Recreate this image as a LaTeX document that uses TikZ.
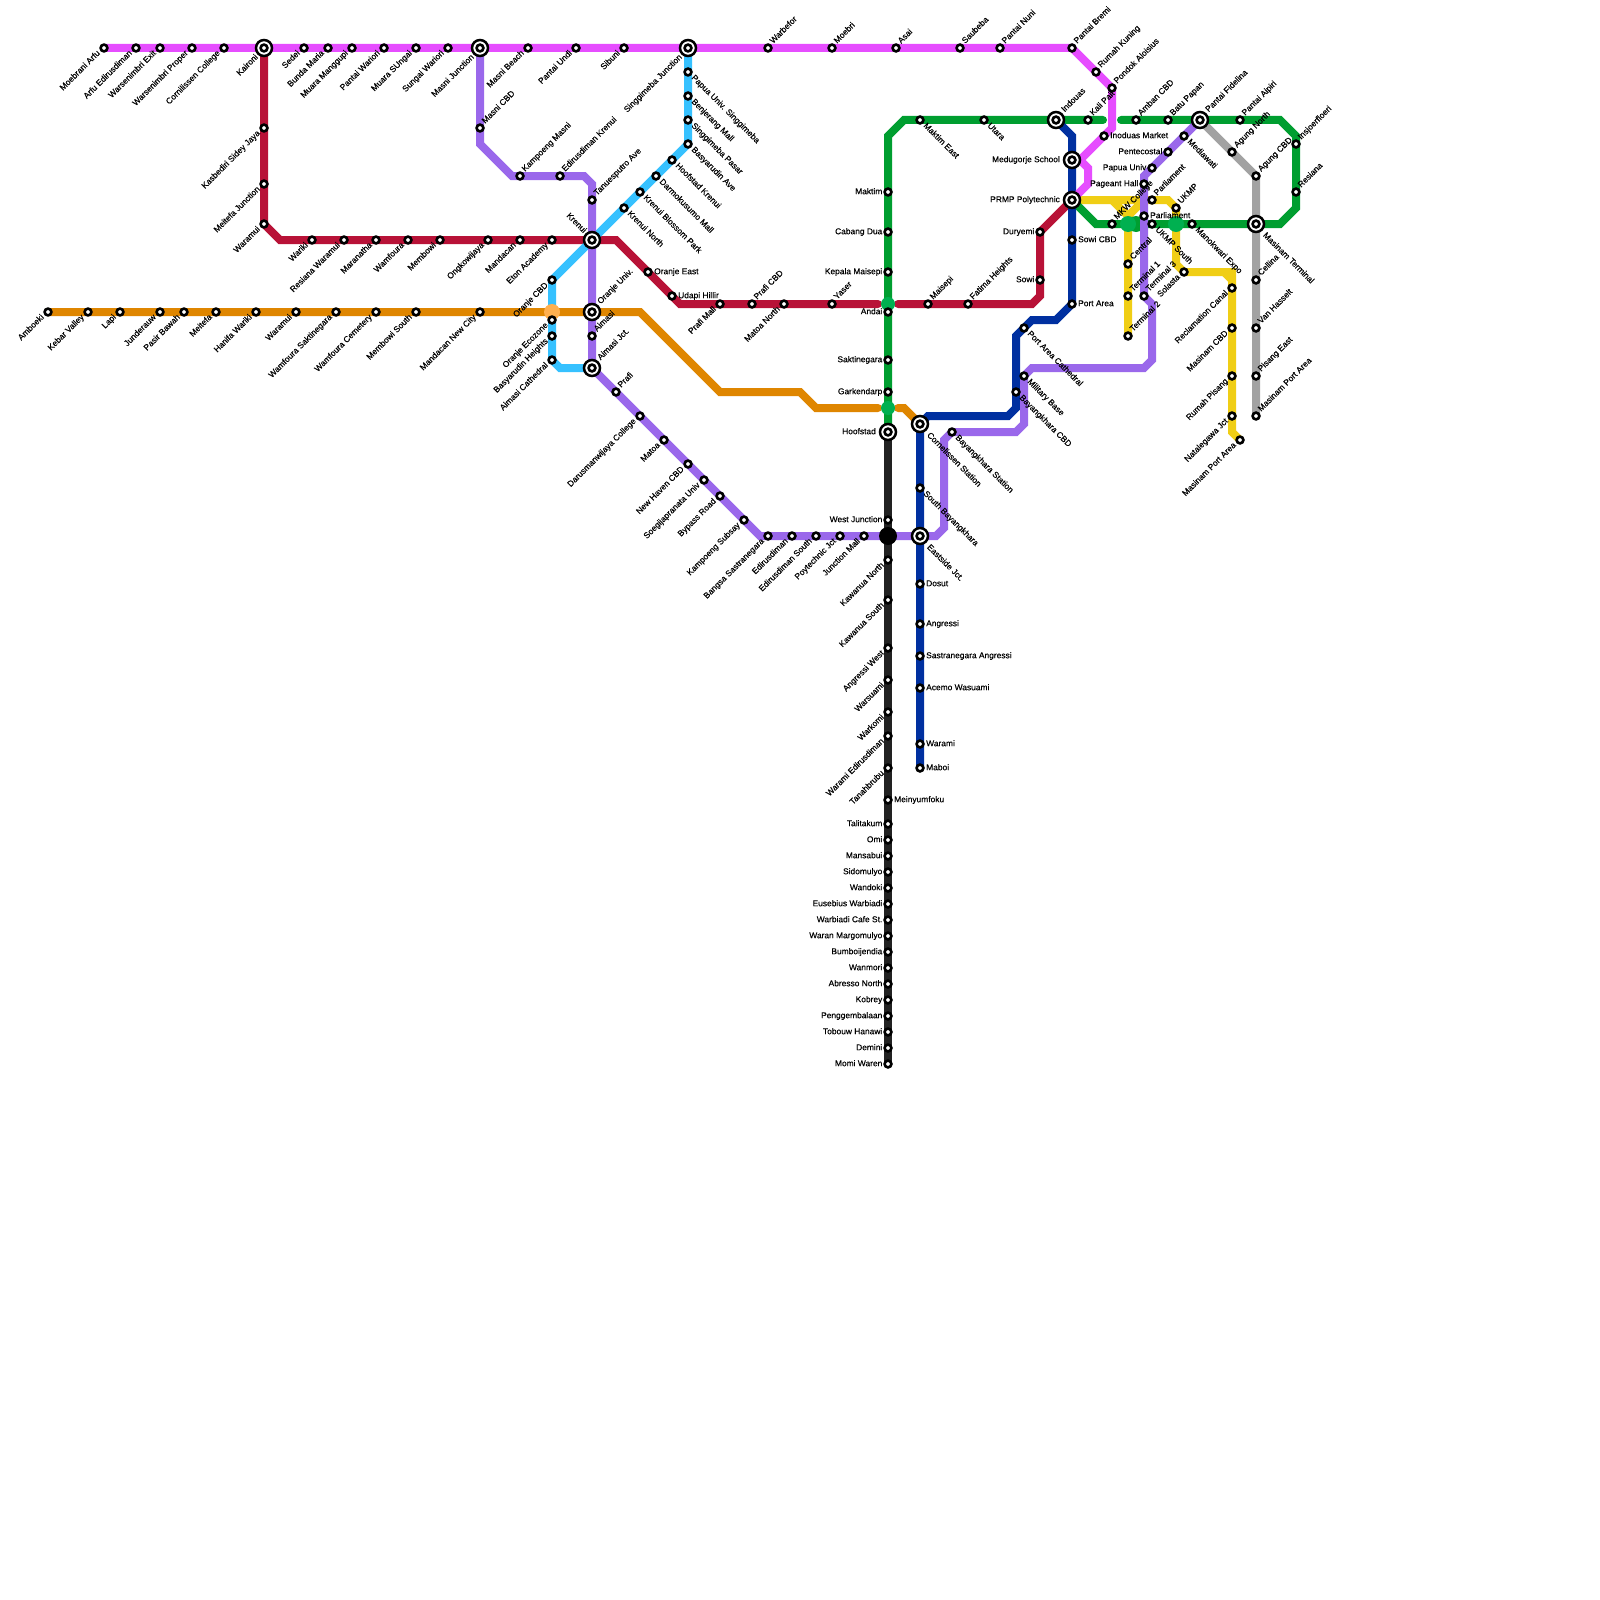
\documentclass[tikz,border=0pt]{standalone}
\usepackage{fontspec}
\setmainfont[FakeBold=0.25]{Liberation Sans}
\definecolor{cMag}{HTML}{E64DFF}
\definecolor{cRed}{HTML}{B81237}
\definecolor{cOra}{HTML}{DF8600}
\definecolor{cPur}{HTML}{9A68EB}
\definecolor{cSky}{HTML}{36C1FF}
\definecolor{cGrn}{HTML}{009E30}
\definecolor{cLgn}{HTML}{00B050}
\definecolor{cBlu}{HTML}{0030A0}
\definecolor{cYel}{HTML}{F0CE15}
\definecolor{cGry}{HTML}{A2A2A2}
\definecolor{cBlk}{HTML}{222222}
\definecolor{cLor}{HTML}{FFB050}
\pgfdeclarelayer{bg}
\pgfsetlayers{bg,main}
\tikzset{
  metro/.style={line width=8pt,line join=miter},
  stn/.style={circle,draw=black,fill=white,line width=2.6pt,minimum size=6.8pt,inner sep=0pt},
  hubo/.style={circle,draw=black,fill=white,line width=2.5pt,minimum size=16pt,inner sep=0pt},
  blob/.style={circle,draw=none,minimum size=#1,inner sep=0pt},
  lab/.style={inner sep=0pt,text height=6pt,text depth=1.6pt,font=\fontsize{8.4}{10}\selectfont,text=black},
  labSW/.style={lab,xshift=-5pt,yshift=-4pt,rotate=45,anchor=east},
  labNE/.style={lab,xshift=3.5pt,yshift=5.5pt,rotate=45,anchor=west},
  labSE/.style={lab,xshift=4.5pt,yshift=-4.5pt,rotate=-45,anchor=west},
  labNW/.style={lab,xshift=-5pt,yshift=5pt,rotate=-45,anchor=east},
  labW/.style={lab,xshift=-5.5pt,anchor=east},
  labE/.style={lab,xshift=6pt,anchor=west},
  hubSW/.style={lab,xshift=-7pt,yshift=-8pt,rotate=45,anchor=east},
  hubNE/.style={lab,xshift=7pt,yshift=9pt,rotate=45,anchor=west},
  hubSE/.style={lab,xshift=8pt,yshift=-10pt,rotate=-45,anchor=west},
  hubNW/.style={lab,xshift=-7pt,yshift=8pt,rotate=-45,anchor=east},
  hubW/.style={lab,xshift=-12pt,anchor=east},
}
\newcommand\stn[5]{\node[stn] (#1) at (#2,#3) {}; \node[lab#4] (#1-t) at (#2,#3) {#5};}
\newcommand\hub[5]{\node[hubo] (#1-o) at (#2,#3) {}; \node[stn] (#1) at (#2,#3) {}; \node[hub#4] (#1-t) at (#2,#3) {#5};}
\begin{document}
\begin{tikzpicture}[x=1pt,y=-1pt]
\useasboundingbox (0,0) rectangle (1600,1600);
\begin{pgfonlayer}{bg}
\fill[white] (0,0) rectangle (1600,1600);
\end{pgfonlayer}
% transfer blobs
\node[blob=16pt,fill=cLor] (xOra) at (552,312) {};
\node[blob=14pt,fill=cLgn] (xRed) at (888,304) {};
\node[blob=14pt,fill=cLgn] (xOrb) at (888,408) {};
\node[blob=16pt,fill=cLgn] (xYel) at (1128,224) {};
\node[blob=16pt,fill=cLgn] (xYeb) at (1176,224) {};
\node[blob=18pt,fill=black] (xBlk) at (888,536) {};
% hubs
\hub{kai}{264}{48}{SW}{Kaironi}
\hub{mju}{480}{48}{SW}{Masni Junction}
\hub{sju}{688}{48}{SW}{Singgimeba Junction}
\hub{kre}{592}{240}{NW}{Krenui}
\hub{oun}{592}{312}{NE}{Oranje Univ.}
\hub{ajc}{592}{368}{NE}{Aimasi Jct.}
\hub{hoo}{888}{432}{W}{Hoofstad}
\hub{cor}{920}{424}{SE}{Cornelissen Station}
\hub{eas}{920}{536}{SE}{Eastside Jct.}
\hub{ind}{1056}{120}{NE}{Indouas}
\hub{med}{1072}{160}{W}{Medugorje School}
\hub{prm}{1072}{200}{W}{PRMP Polytechnic}
\hub{fid}{1200}{120}{NE}{Pantai Fidelina}
\hub{mte}{1256}{224}{SE}{Masinam Terminal}
% magenta
\stn{mg1}{104}{48}{SW}{Moebrani Arfu}
\stn{mg2}{136}{48}{SW}{Arfu Edirusdiman}
\stn{mg3}{160}{48}{SW}{Warsenimbri Exit}
\stn{mg4}{192}{48}{SW}{Warsenimbri Proper}
\stn{mg5}{224}{48}{SW}{Cornilissen College}
\stn{mg6}{304}{48}{SW}{Sedei}
\stn{mg7}{328}{48}{SW}{Bunda Maria}
\stn{mg8}{352}{48}{SW}{Muara Manggupi}
\stn{mg9}{384}{48}{SW}{Pantai Wariori}
\stn{mg10}{416}{48}{SW}{Muara SUngai}
\stn{mg11}{448}{48}{SW}{Sungai Wariori}
\stn{mg12}{528}{48}{SW}{Masni Beach}
\stn{mg13}{576}{48}{SW}{Pantai Undi}
\stn{mg14}{624}{48}{SW}{Sibuni}
\stn{mg15}{768}{48}{NE}{Warbefor}
\stn{mg16}{832}{48}{NE}{Moebri}
\stn{mg17}{896}{48}{NE}{Asai}
\stn{mg18}{960}{48}{NE}{Saubeba}
\stn{mg19}{1000}{48}{NE}{Pantai Nuni}
\stn{mg20}{1072}{48}{NE}{Pantai Bremi}
\stn{mg21}{1096}{72}{NE}{Rumah Kuning}
\stn{mg22}{1112}{88}{NE}{Pondok Aloisius}
\stn{mg23}{1104}{136}{E}{Inoduas Market}
% red
\stn{rd1}{264}{128}{SW}{Kasbediri Sidey Jaya}
\stn{rd2}{264}{184}{SW}{Meitefa Junction}
\stn{rd3}{264}{224}{SW}{Waramui}
\stn{rd4}{312}{240}{SW}{Wariki}
\stn{rd5}{344}{240}{SW}{Resiana Waramui}
\stn{rd6}{376}{240}{SW}{Maranatha}
\stn{rd7}{408}{240}{SW}{Wamfoura}
\stn{rd8}{440}{240}{SW}{Membowi}
\stn{rd9}{488}{240}{SW}{Ongkowijaya}
\stn{rd10}{520}{240}{SW}{Mandacan}
\stn{rd11}{552}{240}{SW}{Eton Academy}
\stn{rd12}{648}{272}{E}{Oranje East}
\stn{rd13}{672}{296}{E}{Udapi Hillir}
\stn{rd14}{720}{304}{SW}{Prafi Mall}
\stn{rd15}{752}{304}{NE}{Prafi CBD}
\stn{rd16}{784}{304}{SW}{Matoa North}
\stn{rd17}{832}{304}{NE}{Yaser}
\stn{rd18}{928}{304}{NE}{Maisepi}
\stn{rd19}{968}{304}{NE}{Fatima Heights}
\stn{rd20}{1040}{232}{W}{Duryemi}
\stn{rd21}{1040}{280}{W}{Sowi}
% orange
\stn{or1}{48}{312}{SW}{Amboeki}
\stn{or2}{88}{312}{SW}{Kebar Valley}
\stn{or3}{120}{312}{SW}{Lapi}
\stn{or4}{160}{312}{SW}{Junderauw}
\stn{or5}{184}{312}{SW}{Pasir Bawah}
\stn{or6}{216}{312}{SW}{Meitefa}
\stn{or7}{256}{312}{SW}{Hanifa Wariki}
\stn{or8}{296}{312}{SW}{Waramui}
\stn{or9}{336}{312}{SW}{Wamfoura Saktinegara}
\stn{or10}{376}{312}{SW}{Wamfoura Cemetery}
\stn{or11}{416}{312}{SW}{Membowi South}
\stn{or12}{480}{312}{SW}{Mandacan New City}
% purple
\stn{pu1}{480}{128}{NE}{Masni CBD}
\stn{pu2}{520}{176}{NE}{Kampoeng Masni}
\stn{pu3}{560}{176}{NE}{Edirusdiman Krenui}
\stn{pu4}{592}{200}{NE}{Tanuesputro Ave}
\stn{pu5}{592}{336}{NE}{Aimasi}
\stn{pu6}{616}{392}{NE}{Prafi}
\stn{pu7}{640}{416}{SW}{Darusmanwijaya College}
\stn{pu8}{664}{440}{SW}{Matoa}
\stn{pu9}{688}{464}{SW}{New Haven CBD}
\stn{pu10}{704}{480}{SW}{Soegijapranata Univ}
\stn{pu11}{720}{496}{SW}{Bypass Road}
\stn{pu12}{744}{520}{SW}{Kampoeng Subsay}
\stn{pu13}{768}{536}{SW}{Bangsa Sastranegara}
\stn{pu14}{792}{536}{SW}{Edirusdiman}
\stn{pu15}{816}{536}{SW}{Edirusdiman South}
\stn{pu16}{840}{536}{SW}{Poytechnic Jct}
\stn{pu17}{864}{536}{SW}{Junction Mall}
\stn{pu18}{952}{432}{SE}{Bayangkhara Station}
\stn{pu19}{1024}{376}{SE}{Military Base}
\stn{pu20}{1144}{296}{NE}{Terminal 3}
\stn{pu21}{1144}{216}{E}{Parliament}
\stn{pu22}{1144}{184}{W}{Pageant Hall}
\stn{pu23}{1152}{168}{W}{Papua Univ}
\stn{pu24}{1168}{152}{W}{Pentecostal}
\stn{pu25}{1184}{136}{SE}{Mediawati}
% sky
\stn{sk1}{688}{72}{SE}{Papua Univ. Singgimeba}
\stn{sk2}{688}{96}{SE}{Benjerang Mall}
\stn{sk3}{688}{120}{SE}{Singgimeba Pasar}
\stn{sk4}{688}{144}{SE}{Basyarudin Ave}
\stn{sk5}{672}{160}{SE}{Hoofstad Krenui}
\stn{sk6}{656}{176}{SE}{Darmokusumo Mall}
\stn{sk7}{640}{192}{SE}{Krenui Blossom Park}
\stn{sk8}{624}{208}{SE}{Krenui North}
\stn{sk9}{552}{280}{SW}{Oranje CBD}
\stn{sk10}{552}{320}{SW}{Oranje Ecozone}
\stn{sk11}{552}{336}{SW}{Basyarudin Heights}
\stn{sk12}{552}{360}{SW}{Aimasi Cathedral}
% green
\stn{gr1}{888}{192}{W}{Maktim}
\stn{gr2}{888}{232}{W}{Cabang Dua}
\stn{gr3}{888}{272}{W}{Kepala Maisepi}
\stn{gr4}{888}{312}{W}{Andai}
\stn{gr5}{888}{360}{W}{Saktinegara}
\stn{gr6}{888}{392}{W}{Garkendarp}
\stn{gr7}{920}{120}{SE}{Maktim East}
\stn{gr8}{984}{120}{SE}{Utara}
\stn{gr9}{1088}{120}{NE}{Kali Pait}
\stn{gr10}{1136}{120}{NE}{Amban CBD}
\stn{gr11}{1168}{120}{NE}{Batu Papan}
\stn{gr12}{1240}{120}{NE}{Pantai Aipiri}
\stn{gr13}{1296}{144}{NE}{Insjoerfloeri}
\stn{gr14}{1296}{192}{NE}{Resiana}
\stn{gr15}{1192}{224}{SE}{Manokwari Expo}
\stn{gr16}{1152}{224}{SE}{UKMP South}
\stn{gr17}{1112}{224}{NE}{MKW College}
% blue
\stn{bl1}{1072}{240}{E}{Sowi CBD}
\stn{bl2}{1072}{304}{E}{Port Area}
\stn{bl3}{1024}{328}{SE}{Port Area Cathedral}
\stn{bl4}{1016}{392}{SE}{Bayangkhara CBD}
\stn{bl5}{920}{488}{SE}{South Bayangkhara}
\stn{bl6}{920}{584}{E}{Dosut}
\stn{bl7}{920}{624}{E}{Angressi}
\stn{bl8}{920}{656}{E}{Sastranegara Angressi}
\stn{bl9}{920}{688}{E}{Acemo Wasuami}
\stn{bl10}{920}{744}{E}{Warami}
\stn{bl11}{920}{768}{E}{Maboi}
% yellow
\stn{ye1}{1152}{200}{NE}{Parliament}
\stn{ye2}{1176}{208}{NE}{UKMP}
\stn{ye3}{1184}{272}{SW}{Solasta}
\stn{ye4}{1232}{288}{SW}{Reclamation Canal}
\stn{ye5}{1232}{328}{SW}{Masinam CBD}
\stn{ye6}{1232}{376}{SW}{Rumah Pisang}
\stn{ye7}{1232}{416}{SW}{Natalegawa Jct}
\stn{ye8}{1240}{440}{SW}{Masinam Port Area}
\stn{ye9}{1128}{264}{NE}{Central}
\stn{ye10}{1128}{296}{NE}{Terminal 1}
\stn{ye11}{1128}{336}{NE}{Terminal 2}
% gray
\stn{gy1}{1232}{152}{NE}{Agung North}
\stn{gy2}{1256}{176}{NE}{Agung CBD}
\stn{gy3}{1256}{280}{NE}{Cellina}
\stn{gy4}{1256}{328}{NE}{Van Hasselt}
\stn{gy5}{1256}{376}{NE}{Pisang East}
\stn{gy6}{1256}{416}{NE}{Masinam Port Area}
% black
\stn{bk1}{888}{520}{W}{West Junction}
\stn{bk2}{888}{560}{SW}{Kawanua North}
\stn{bk3}{888}{600}{SW}{Kawanua South}
\stn{bk4}{888}{648}{SW}{Angressi West}
\stn{bk5}{888}{680}{SW}{Warsuami}
\stn{bk6}{888}{712}{SW}{Warkomi}
\stn{bk7}{888}{736}{SW}{Warami Edirusdiman}
\stn{bk8}{888}{768}{SW}{Tanahbrubu}
\stn{bk9}{888}{800}{E}{Meinyumfoku}
\stn{bk10}{888}{824}{W}{Talitakum}
\stn{bk11}{888}{840}{W}{Omi}
\stn{bk12}{888}{856}{W}{Mansabui}
\stn{bk13}{888}{872}{W}{Sidomulyo}
\stn{bk14}{888}{888}{W}{Wandoki}
\stn{bk15}{888}{904}{W}{Eusebius Warbiadi}
\stn{bk16}{888}{920}{W}{Warbiadi Cafe St.}
\stn{bk17}{888}{936}{W}{Waran Margomulyo}
\stn{bk18}{888}{952}{W}{Bumboijendia}
\stn{bk19}{888}{968}{W}{Wanmori}
\stn{bk20}{888}{984}{W}{Abresso North}
\stn{bk21}{888}{1000}{W}{Kobrey}
\stn{bk22}{888}{1016}{W}{Penggembalaan}
\stn{bk23}{888}{1032}{W}{Tobouw Hanawi}
\stn{bk24}{888}{1048}{W}{Demini}
\stn{bk25}{888}{1064}{W}{Momi Waren}
% bends
\coordinate (mb1) at (1112,128); \coordinate (mb2) at (1080,160); \coordinate (mb3) at (1088,168); \coordinate (mb4) at (1088,184);
\coordinate (rb1) at (280,240); \coordinate (rb2) at (616,240); \coordinate (rb3) at (680,304); \coordinate (rb4) at (878,304); \coordinate (rb5) at (898,304); \coordinate (rb6) at (1032,304); \coordinate (rb7) at (1040,296);
\coordinate (ob1) at (640,312); \coordinate (ob2) at (720,392); \coordinate (ob3) at (800,392); \coordinate (ob4) at (816,408); \coordinate (ob5) at (878,408); \coordinate (ob6) at (898,408); \coordinate (ob7) at (904,408);
\coordinate (pb1) at (480,144); \coordinate (pb2) at (512,176); \coordinate (pb3) at (584,176); \coordinate (pb4) at (592,184); \coordinate (pb5) at (760,536); \coordinate (pb6) at (936,536); \coordinate (pb7) at (944,528); \coordinate (pb8) at (944,440); \coordinate (pb9) at (1016,432); \coordinate (pb10) at (1024,424); \coordinate (pb11) at (1032,368); \coordinate (pb12) at (1144,368); \coordinate (pb13) at (1152,360); \coordinate (pb14) at (1152,304); \coordinate (pb15) at (1144,176);
\coordinate (sb2) at (560,368);
\coordinate (gb1) at (888,136); \coordinate (gb2) at (904,120); \coordinate (gb3) at (1103,120); \coordinate (gb4) at (1121,120); \coordinate (gb5) at (1280,120); \coordinate (gb6) at (1296,136); \coordinate (gb7) at (1296,208); \coordinate (gb8) at (1280,224); \coordinate (gb9) at (1096,224);
\coordinate (bb1) at (1072,136); \coordinate (bb2) at (1056,320); \coordinate (bb3) at (1032,320); \coordinate (bb4) at (1016,336); \coordinate (bb5) at (1016,408); \coordinate (bb6) at (1008,416); \coordinate (bb7) at (928,416);
\coordinate (yb1) at (1168,200); \coordinate (yb2) at (1176,264); \coordinate (yb3) at (1232,272); \coordinate (yb4) at (1232,432); \coordinate (yb5) at (1112,200); \coordinate (yb6) at (1128,216); \coordinate (yb7) at (1144,200); \coordinate (yb8) at (1224,272); \coordinate (yb9) at (1232,280);
\begin{pgfonlayer}{bg}
\draw[metro,cGry] (fid.center) -- (gy2.center) -- (gy6.center);
\draw[metro,cYel] (prm.center) -- (yb1) -- (ye2.center) -- (yb2) -- (ye3.center) -- (yb3) -- (yb4) -- (ye8.center);
\draw[metro,cYel] (yb8) -- (yb9);
\draw[metro,cYel] (yb5) -- (yb6) -- (ye11.center);
\draw[metro,cYel] (yb7) -- (yb6);
\draw[metro,cGrn,line cap=round] (hoo.center) -- (gb1) -- (gb2) -- (gb3);
\draw[metro,cGrn,line cap=round] (gb4) -- (gb5) -- (gb6) -- (gb7) -- (gb8) -- (gb9) -- (prm.center);
\node[blob=16pt,fill=cGrn] (xGrn) at (1136,224) {};
\draw[metro,cRed,line cap=round] (kai.center) -- (rd3.center) -- (rb1) -- (rb2) -- (rb3) -- (rb4);
\draw[metro,cRed,line cap=round] (rb5) -- (rb6) -- (rb7) -- (rd20.center) -- (prm.center);
\draw[metro,cOra,line cap=round] (or1.center) -- (ob1) -- (ob2) -- (ob3) -- (ob4) -- (ob5);
\draw[metro,cOra,line cap=round] (ob6) -- (ob7) -- (cor.center);
\draw[metro,cBlu] (ind.center) -- (bb1) -- (bl2.center) -- (bb2) -- (bb3) -- (bb4) -- (bb5) -- (bb6) -- (bb7) -- (cor.center) -- (bl11.center);
\draw[metro,cSky] (sju.center) -- (sk4.center) -- (sk9.center) -- (sk12.center) -- (sb2) -- (ajc.center);
\draw[metro,cPur] (mju.center) -- (pb1) -- (pb2) -- (pb3) -- (pb4) -- (ajc.center) -- (pb5) -- (pb6) -- (pb7) -- (pb8) -- (pu18.center) -- (pb9) -- (pb10) -- (pu19.center) -- (pb11) -- (pb12) -- (pb13) -- (pb14) -- (pu20.center) -- (pb15) -- (fid.center);
\draw[metro,cMag] (mg1.center) -- (mg20.center) -- (mg22.center) -- (mb1) -- (mb2) -- (mb3) -- (mb4) -- (prm.center);
\draw[metro,cBlk] (hoo.center) -- (bk25.center);
\end{pgfonlayer}
\end{tikzpicture}
\end{document}
